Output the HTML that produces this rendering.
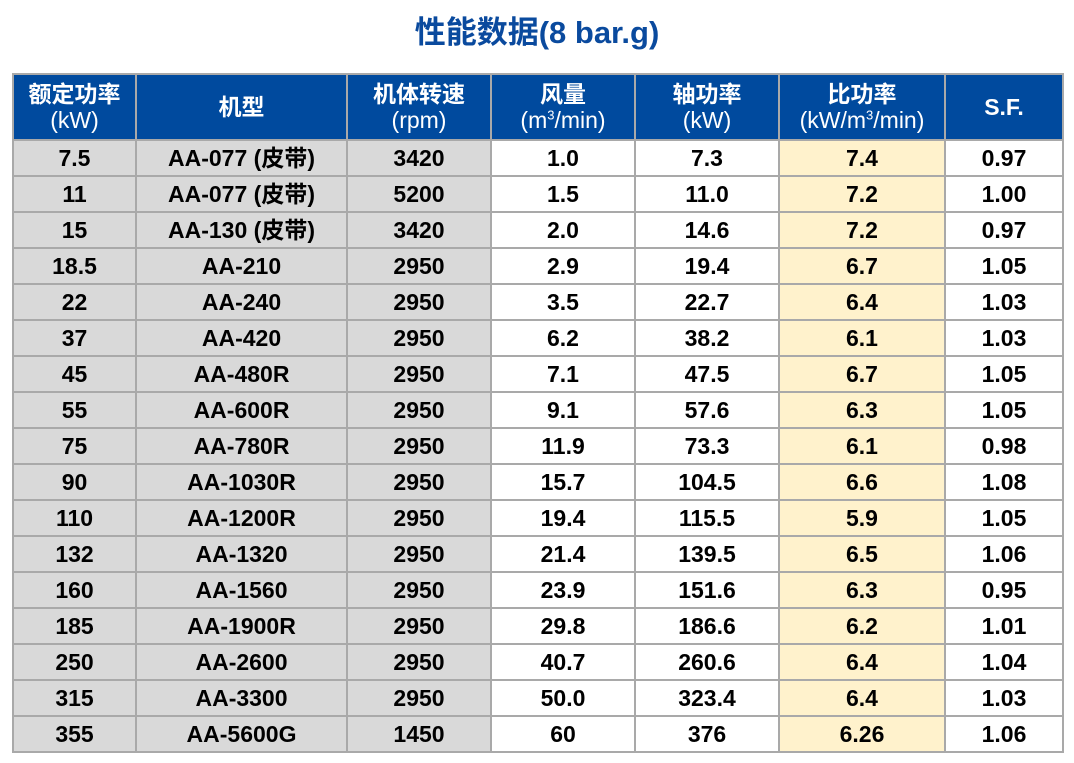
<!DOCTYPE html>
<html><head><meta charset="utf-8"><style>
body{margin:0;width:1074px;height:763px;background:#fff;font-family:"Liberation Sans","Noto Sans CJK SC",sans-serif;position:relative;overflow:hidden}
h1{position:absolute;top:13px;left:0;width:1074px;margin:0;text-align:center;font-size:31px;color:#0a4a9e;font-weight:bold;line-height:40px}
table{position:absolute;left:12px;top:73px;border-collapse:collapse;table-layout:fixed}
td,th{border:2px solid #a9a9a9;text-align:center;padding:0;font-size:23px;font-weight:bold;color:#000;height:34px;line-height:34px}
th{background:#004a9e;color:#fff;height:64px;line-height:26px;font-size:23px}
th span{font-weight:normal;display:block}
td.g{background:#d9d9d9}
td.y{background:#fff2cc}
sup{font-size:13px;line-height:0}
</style></head><body>
<h1>性能数据(8 bar.g)</h1>
<table>
<colgroup><col style="width:123px"><col style="width:211px"><col style="width:144px"><col style="width:144px"><col style="width:144px"><col style="width:166px"><col style="width:118px"></colgroup>
<tr><th>额定功率<span>(kW)</span></th><th>机型</th><th>机体转速<span>(rpm)</span></th><th>风量<span>(m<sup>3</sup>/min)</span></th><th>轴功率<span>(kW)</span></th><th>比功率<span>(kW/m<sup>3</sup>/min)</span></th><th>S.F.</th></tr>
<tr><td class="g">7.5</td><td class="g">AA-077 (皮带)</td><td class="g">3420</td><td>1.0</td><td>7.3</td><td class="y">7.4</td><td>0.97</td></tr>
<tr><td class="g">11</td><td class="g">AA-077 (皮带)</td><td class="g">5200</td><td>1.5</td><td>11.0</td><td class="y">7.2</td><td>1.00</td></tr>
<tr><td class="g">15</td><td class="g">AA-130 (皮带)</td><td class="g">3420</td><td>2.0</td><td>14.6</td><td class="y">7.2</td><td>0.97</td></tr>
<tr><td class="g">18.5</td><td class="g">AA-210</td><td class="g">2950</td><td>2.9</td><td>19.4</td><td class="y">6.7</td><td>1.05</td></tr>
<tr><td class="g">22</td><td class="g">AA-240</td><td class="g">2950</td><td>3.5</td><td>22.7</td><td class="y">6.4</td><td>1.03</td></tr>
<tr><td class="g">37</td><td class="g">AA-420</td><td class="g">2950</td><td>6.2</td><td>38.2</td><td class="y">6.1</td><td>1.03</td></tr>
<tr><td class="g">45</td><td class="g">AA-480R</td><td class="g">2950</td><td>7.1</td><td>47.5</td><td class="y">6.7</td><td>1.05</td></tr>
<tr><td class="g">55</td><td class="g">AA-600R</td><td class="g">2950</td><td>9.1</td><td>57.6</td><td class="y">6.3</td><td>1.05</td></tr>
<tr><td class="g">75</td><td class="g">AA-780R</td><td class="g">2950</td><td>11.9</td><td>73.3</td><td class="y">6.1</td><td>0.98</td></tr>
<tr><td class="g">90</td><td class="g">AA-1030R</td><td class="g">2950</td><td>15.7</td><td>104.5</td><td class="y">6.6</td><td>1.08</td></tr>
<tr><td class="g">110</td><td class="g">AA-1200R</td><td class="g">2950</td><td>19.4</td><td>115.5</td><td class="y">5.9</td><td>1.05</td></tr>
<tr><td class="g">132</td><td class="g">AA-1320</td><td class="g">2950</td><td>21.4</td><td>139.5</td><td class="y">6.5</td><td>1.06</td></tr>
<tr><td class="g">160</td><td class="g">AA-1560</td><td class="g">2950</td><td>23.9</td><td>151.6</td><td class="y">6.3</td><td>0.95</td></tr>
<tr><td class="g">185</td><td class="g">AA-1900R</td><td class="g">2950</td><td>29.8</td><td>186.6</td><td class="y">6.2</td><td>1.01</td></tr>
<tr><td class="g">250</td><td class="g">AA-2600</td><td class="g">2950</td><td>40.7</td><td>260.6</td><td class="y">6.4</td><td>1.04</td></tr>
<tr><td class="g">315</td><td class="g">AA-3300</td><td class="g">2950</td><td>50.0</td><td>323.4</td><td class="y">6.4</td><td>1.03</td></tr>
<tr><td class="g">355</td><td class="g">AA-5600G</td><td class="g">1450</td><td>60</td><td>376</td><td class="y">6.26</td><td>1.06</td></tr>
</table>
</body></html>
